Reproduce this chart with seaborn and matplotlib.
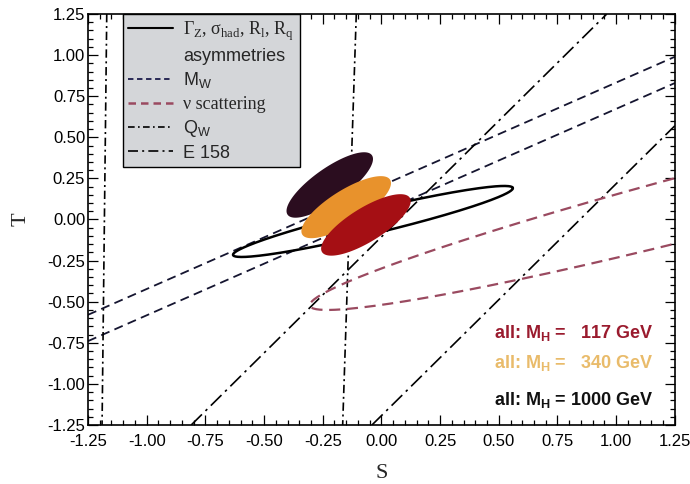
import numpy as np
import pandas as pd
import seaborn as sns
import matplotlib
matplotlib.use('Agg')
from matplotlib import pyplot as plt
from matplotlib.lines import Line2D
from matplotlib.ticker import MultipleLocator

# %% Data (S, T plane)

# M_W band, dashed lines, end points at S = -1.25 and 1.25
mw_s = [-1.25, 1.25]
mw_t_upper = [-0.58, 0.99]
mw_t_lower = [-0.74, 0.83]

# Q_W band, almost vertical, end points at T = 1.25 and -1.25
qw_t = [1.25, -1.25]
qw_s_left = [-1.17, -1.19]
qw_s_right = [-0.107, -0.165]

# E 158 band
e158_s1 = [-0.81, 0.96]
e158_t1 = [-1.25, 1.25]
e158_s2 = [-0.04, 1.25]
e158_t2 = [-1.25, 0.57]

# Z-pole contour: centre, major and minor semi-axis vectors
z_centre = [-0.036, -0.012]
z_major = [0.596, 0.204]
z_minor = [0.012, -0.071]

# nu scattering contour
nu_centre = [1.57, 0.17]
nu_major = [1.874, 0.698]
nu_minor = [-0.066, 0.178]

# all-data fits for three Higgs masses
mh_values = ['1000', '340', '117']
fit_s = [-0.22, -0.15, -0.066]
fit_t = [0.21, 0.075, -0.033]
fit_major_s = [0.18, 0.187, 0.187]
fit_major_t = [0.18, 0.167, 0.165]
fit_minor_s = [0.039, 0.038, 0.038]
fit_minor_t = [-0.085, -0.088, -0.088]
fit_colors = ['#2b0d1f', '#e8922c', '#a50f14']

# text label positions
lab_t = [-1.098, -0.873, -0.69]
lab_colors = ['#111111', '#e9bb6a', '#9a1b2e']

MW_COLOR = '#1b1b4b'
NU_COLOR = '#9a4a60'
QW_DASH = (0, (5, 2.2, 1.2, 2.2))
E158_DASH = (0, (9, 3, 1.5, 3))


def contour(c, a, b, n=300):
    ang = np.linspace(0, 2 * np.pi, n)
    s = c[0] + a[0] * np.cos(ang) + b[0] * np.sin(ang)
    t = c[1] + a[1] * np.cos(ang) + b[1] * np.sin(ang)
    return s, t


# %% Figure
sns.set_style('ticks')
plt.rcParams['font.family'] = ['Liberation Sans', 'DejaVu Sans']
plt.rcParams['axes.unicode_minus'] = False

fig = plt.figure(figsize=(6.9, 4.84), dpi=100)
ax = fig.add_axes([0.1275, 0.122, 0.8505, 0.849])

dfLines = pd.concat([
    pd.DataFrame({'S': mw_s, 'T': mw_t_upper, 'line': 'mw1'}),
    pd.DataFrame({'S': mw_s, 'T': mw_t_lower, 'line': 'mw2'}),
])
for name, d in dfLines.groupby('line'):
    sns.lineplot(data=d, x='S', y='T', ax=ax, color='#151530',
                 linestyle=(0, (5, 3)), linewidth=1.3, sort=False,
                 estimator=None)

for s_vals in (qw_s_left, qw_s_right):
    sns.lineplot(x=s_vals, y=qw_t, ax=ax, color='k', linestyle=QW_DASH,
                 linewidth=1.2, sort=False, estimator=None)

sns.lineplot(x=e158_s1, y=e158_t1, ax=ax, color='k', linestyle=E158_DASH,
             linewidth=1.2, sort=False, estimator=None)
sns.lineplot(x=e158_s2, y=e158_t2, ax=ax, color='k', linestyle=E158_DASH,
             linewidth=1.2, sort=False, estimator=None)

zs, zt = contour(z_centre, z_major, z_minor)
ax.plot(zs, zt, color='k', linewidth=1.8, zorder=2)

ns, nt = contour(nu_centre, nu_major, nu_minor)
ax.plot(ns, nt, color=NU_COLOR, linestyle=(0, (5, 3)), linewidth=1.6,
        zorder=2)

for i in range(len(fit_s)):
    fs, ft = contour([fit_s[i], fit_t[i]],
                     [fit_major_s[i], fit_major_t[i]],
                     [fit_minor_s[i], fit_minor_t[i]])
    ax.fill(fs, ft, color=fit_colors[i], linewidth=0, zorder=3)

for mh, ty, col in zip(mh_values, lab_t, lab_colors):
    pad = ' ' if len(mh) == 4 else '   '
    ax.text(1.156, ty, 'all: M$_\\mathregular{H}$ =' + pad + mh + ' GeV',
            color=col, fontsize=13, fontweight='bold', ha='right',
            va='center', zorder=4)

ax.set_xlim(-1.25, 1.25)
ax.set_ylim(-1.25, 1.25)
ax.xaxis.set_major_locator(MultipleLocator(0.25))
ax.yaxis.set_major_locator(MultipleLocator(0.25))
ax.xaxis.set_minor_locator(MultipleLocator(0.05))
ax.yaxis.set_minor_locator(MultipleLocator(0.05))
ax.xaxis.set_major_formatter(lambda v, p: f'{v:.2f}')
ax.yaxis.set_major_formatter(lambda v, p: f'{v:.2f}')
ax.tick_params(which='both', direction='in', top=True, right=True,
               width=0.9, colors='k', labelsize=12)
ax.tick_params(which='major', length=7)
ax.tick_params(which='minor', length=3.5)
ax.tick_params(axis='x', which='major', pad=6.5)
ax.tick_params(axis='y', which='major', pad=2)
for sp in ax.spines.values():
    sp.set_linewidth(1.2)
    sp.set_color('k')

ax.set_xlabel('S', fontsize=16, family='Liberation Serif', labelpad=11)
ax.set_ylabel('T', fontsize=16, family='Liberation Serif', labelpad=12)

# %% Legend
handles = [
    Line2D([], [], color='k', linewidth=1.5),
    Line2D([], [], linestyle='none'),
    Line2D([], [], color=MW_COLOR, linestyle=(0, (3, 2)), linewidth=1.3),
    Line2D([], [], color=NU_COLOR, linestyle=(0, (3, 2)), linewidth=1.8),
    Line2D([], [], color='k', linestyle=(0, (4, 2, 1, 2)), linewidth=1.2),
    Line2D([], [], color='k', linestyle=(0, (6, 2.5, 1.2, 2.5)),
           linewidth=1.2),
]
labels = [
    'Γ$_\\mathregular{Z}$, σ$_\\mathregular{had}$, R$_\\mathregular{l}$, '
    'R$_\\mathregular{q}$',
    'asymmetries',
    'M$_\\mathregular{W}$',
    'ν scattering',
    'Q$_\\mathregular{W}$',
    'E 158',
]
leg = ax.legend(handles, labels, loc='upper left',
                bbox_to_anchor=(0.0596, 1.0), borderaxespad=0,
                fontsize=13, frameon=True, fancybox=False,
                facecolor='#d4d6d9', edgecolor='k', framealpha=1,
                handlelength=2.45, handletextpad=0.6, borderpad=0.3,
                labelspacing=0.3)
leg.get_frame().set_linewidth(1.0)
leg.set_zorder(5)
for i, txt in enumerate(leg.get_texts()):
    if i in (0, 3):
        txt.set_family('Liberation Serif')

fig.savefig('out.png', dpi=100)
